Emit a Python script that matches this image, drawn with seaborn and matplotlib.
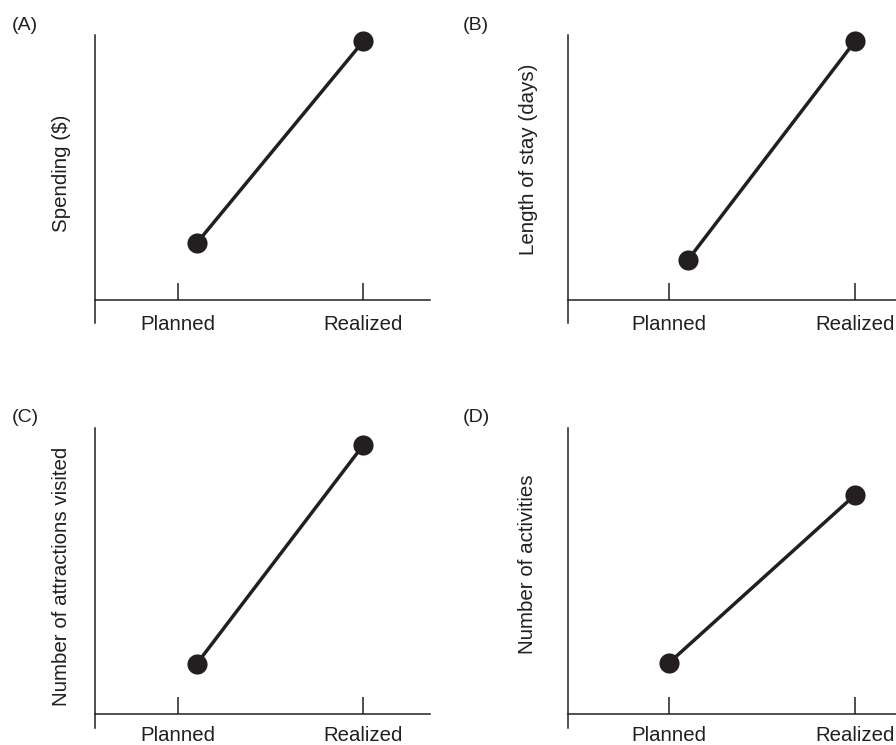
import pandas as pd
import matplotlib
matplotlib.use('Agg')
import matplotlib.pyplot as plt
import seaborn as sns

# data (arbitrary units, x axis at 0, top of y axis at 10)
stages = ['Planned', 'Realized']
panels = ['(A)', '(B)', '(C)', '(D)']
ylabels = ['Spending ($)', 'Length of stay (days)',
           'Number of attractions visited', 'Number of activities']
planned_x = [0.1, 0.1, 0.1, 0.0]
realized_x = [1.0, 1.0, 1.0, 1.0]
planned_y = [2.15, 1.51, 1.75, 1.79]
realized_y = [9.77, 9.77, 9.41, 7.66]

ink = '#231f20'

sns.set_style('white')
plt.rcParams['font.family'] = ['Liberation Sans', 'DejaVu Sans']
plt.rcParams['text.color'] = ink

fig = plt.figure(figsize=(8.96, 7.45), dpi=100)

# axes boxes in figure fractions (left, bottom, width, height)
boxes = [
    (0.106, 0.5664, 0.374, 0.3866),
    (0.634, 0.5664, 0.366, 0.3866),
    (0.106, 0.0228, 0.374, 0.4027),
    (0.634, 0.0228, 0.366, 0.4027),
]
xlims = [(-0.45, 1.36), (-0.545, 1.22), (-0.45, 1.36), (-0.545, 1.22)]
ybottoms = [-0.87, -0.87, -0.5, -0.5]
label_xy = [(-0.0716, 0.52), (-0.0915, 0.57), (-0.0716, 0.507), (-0.0945, 0.546)]
panel_xy = [(12, 25), (463, 25), (12, 418), (463, 418)]
label_pad = [11, 11, 9, 9]

for i in range(4):
    ax = fig.add_axes(boxes[i])
    df = pd.DataFrame({'x': [planned_x[i], realized_x[i]],
                       'y': [planned_y[i], realized_y[i]]})
    sns.lineplot(data=df, x='x', y='y', ax=ax, color=ink, lw=2.5,
                 marker='o', markersize=14.5, markeredgecolor=ink,
                 markeredgewidth=0, clip_on=False)

    ax.set_xlim(*xlims[i])
    ax.set_ylim(ybottoms[i], 10)
    ax.set_xticks([0, 1])
    ax.set_xticklabels(stages)
    ax.set_yticks([])
    ax.set_xlabel('')
    ax.set_ylabel(ylabels[i], fontsize=14.8, color=ink)
    ax.yaxis.set_label_coords(*label_xy[i])

    for s in ['top', 'right']:
        ax.spines[s].set_visible(False)
    ax.spines['bottom'].set_position(('data', 0))
    for s in ['left', 'bottom']:
        ax.spines[s].set_color(ink)
        ax.spines[s].set_linewidth(1.1)
    ax.tick_params(axis='x', bottom=True, direction='in', length=12.2,
                   width=1.1, color=ink, pad=label_pad[i], labelsize=14.7,
                   labelcolor=ink)
    ax.patch.set_alpha(0)

    fig.text(panel_xy[i][0] / 896, 1 - panel_xy[i][1] / 745, panels[i],
             fontsize=14, va='center', ha='left', color=ink)

plt.savefig('out.png', dpi=100)
